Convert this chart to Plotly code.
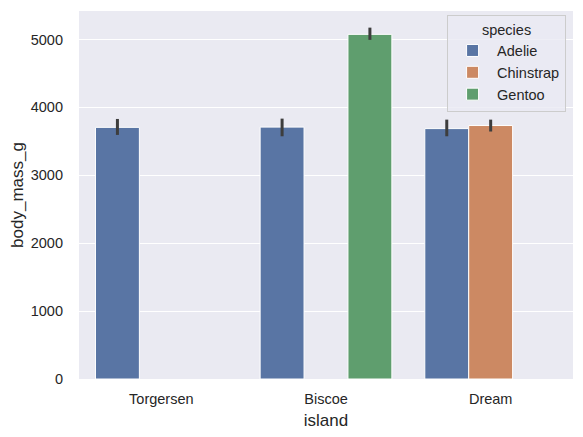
import plotly.graph_objects as go

islands = ["Torgersen", "Biscoe", "Dream"]
species = ["Adelie", "Chinstrap", "Gentoo"]
colors = ["#5975a4", "#cc8963", "#5f9e6e"]

# mean body mass per island/species (None = no penguins of that species there)
mass_mean = {
    "Adelie": [3706, 3710, 3688],
    "Chinstrap": [None, None, 3733],
    "Gentoo": [None, 5076, None],
}
# 95% CI bounds
ci_low = {
    "Adelie": [3595, 3575, 3575],
    "Chinstrap": [None, None, 3645],
    "Gentoo": [None, 4995, None],
}
ci_high = {
    "Adelie": [3830, 3835, 3820],
    "Chinstrap": [None, None, 3820],
    "Gentoo": [None, 5175, None],
}

yticks = [0, 1000, 2000, 3000, 4000, 5000]

fig = go.Figure()
for sp, col in zip(species, colors):
    means = mass_mean[sp]
    plus = [None if m is None else h - m for m, h in zip(means, ci_high[sp])]
    minus = [None if m is None else m - l for m, l in zip(means, ci_low[sp])]
    fig.add_trace(go.Bar(
        x=islands, y=means, name=sp,
        marker=dict(color=col, line=dict(color="white", width=1)),
        error_y=dict(type="data", array=plus, arrayminus=minus,
                     color="#3d3d3d", thickness=3, width=0),
    ))

font = dict(family="Liberation Sans, Arial, sans-serif", size=14.5, color="#262626")

# the page body adds an 8px offset, so margins are shifted to compensate
fig.update_layout(
    width=583, height=437,
    margin=dict(l=71, r=18, t=3, b=66),
    paper_bgcolor="white", plot_bgcolor="#EAEAF2",
    font=font,
    barmode="group", bargap=0.2, bargroupgap=0,
    showlegend=True,
    legend=dict(
        title=dict(text="species", side="top center", font=font),
        x=0.986, y=0.99, xanchor="right", yanchor="top",
        bgcolor="rgba(234,234,242,0.8)", bordercolor="#cccccc", borderwidth=1,
        font=font, itemwidth=39,
    ),
    xaxis=dict(
        title=dict(text="island", standoff=8),
        range=[-0.5, 2.5], showgrid=False, zeroline=False,
        ticks="", showline=False, automargin=False, ticklabelstandoff=9,
    ),
    yaxis=dict(
        title=dict(text="body_mass_g", standoff=10),
        range=[0, 5420], tickvals=yticks,
        gridcolor="white", gridwidth=1, zeroline=False,
        ticks="", showline=False, ticklabelstandoff=15, automargin=False,
    ),
)

fig.write_html("out.html")
